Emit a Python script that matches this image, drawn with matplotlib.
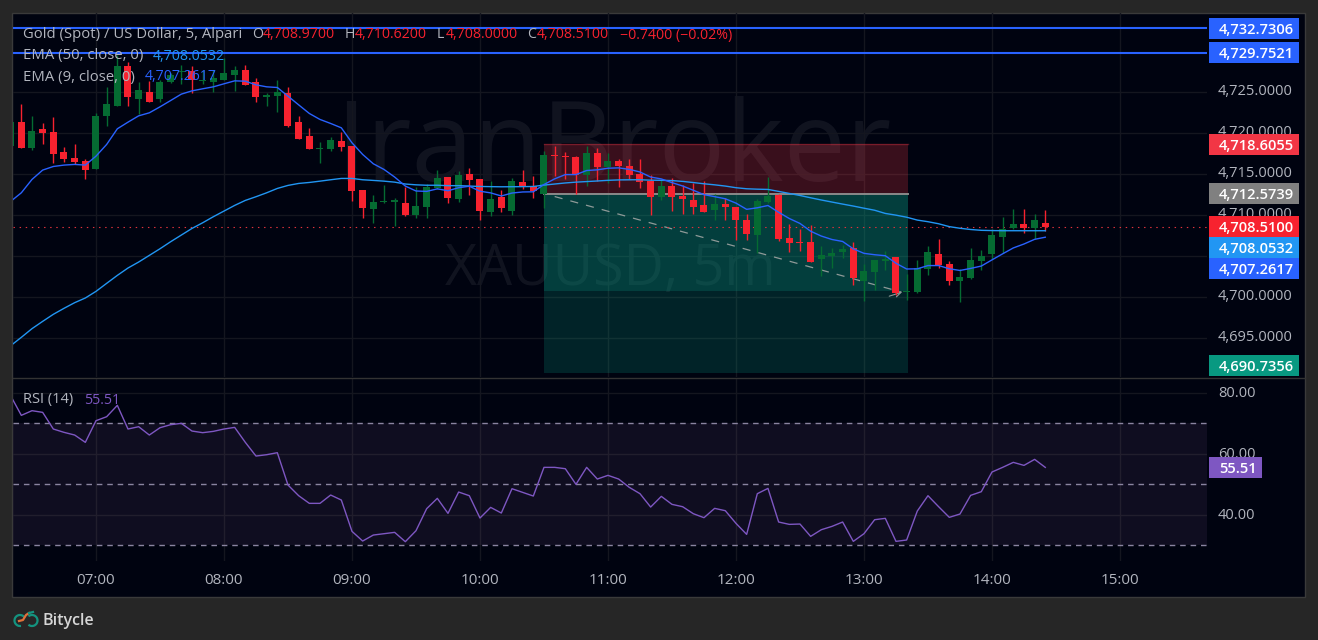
import matplotlib
matplotlib.use("Agg")
import matplotlib.pyplot as plt
from matplotlib.patches import Rectangle, Arc
from matplotlib.transforms import ScaledTranslation

plt.rcParams['font.family'] = ['Open Sans', 'DejaVu Sans']

W, H = 1318, 640

# ---------- data ----------
opens = [4718.33,4721.26,4718.09,4720.41,4720.04,4717.6,4716.87,4716.5,4715.53,4721.99,
 4723.33,4728.21,4724.07,4724.92,4724.07,4726.14,4727.36,4727.6,4726.3,4726.26,
 4726.5,4727.11,4727.72,4726.26,4724.31,4724.55,4724.8,4721.26,4719.55,4717.97,
 4717.97,4718.94,4718.33,4712.97,4710.65,4711.5,4711.55,4711.38,4709.92,4710.9,
 4713.21,4714.55,4711.87,4714.92,4714.31,4710.28,4712.11,4710.41,4713.94,4713.46,
 4712.48,4717.24,4717.11,4717.0,4714.8,4717.48,4715.77,4716.5,4715.89,4714.92,
 4714.07,4712.11,4713.46,4712.24,4711.75,4711.14,4710.53,4711.26,4710.9,4709.31,
 4707.48,4711.5,4712.36,4707.11,4706.63,4706.63,4704.55,4704.92,4705.41,4706.0,
 4701.95,4702.97,4704.31,4704.8,4700.6,4700.53,4703.33,4705.16,4703.94,4701.87,
 4702.24,4704.31,4705.16,4707.24,4708.33,4708.82,4708.33,4708.97]
highs = [4721.4,4723.46,4722.11,4721.14,4721.87,4718.21,4718.58,4716.75,4722.36,4725.65,
 4729.55,4728.7,4726.26,4726.38,4726.5,4727.3,4728.3,4728.1,4727.7,4727.7,
 4729.1,4728.2,4728.33,4726.63,4724.8,4726.5,4725.53,4722.11,4720.53,4718.82,
 4719.43,4720.04,4718.33,4712.97,4712.36,4713.58,4712.0,4713.33,4713.33,4713.7,
 4715.41,4714.55,4715.28,4715.65,4714.31,4714.07,4712.97,4714.43,4715.41,4714.67,
 4717.72,4718.33,4717.6,4717.11,4718.33,4718.09,4717.48,4716.75,4716.75,4716.75,
 4714.8,4714.31,4714.43,4713.58,4713.82,4714.07,4712.48,4712.0,4710.9,4710.04,
 4711.87,4714.55,4712.48,4708.82,4708.2,4708.76,4706.14,4705.89,4706.26,4706.63,
 4703.94,4704.43,4705.53,4704.8,4702.72,4704.43,4706.14,4707.0,4704.31,4703.33,
 4705.9,4705.65,4708.2,4709.67,4710.65,4710.65,4710.04,4710.62]
lows = [4718.2,4718.09,4717.85,4718.58,4716.26,4716.38,4716.14,4714.31,4715.53,4720.77,
 4723.21,4723.21,4722.24,4723.82,4723.7,4726.1,4725.9,4724.8,4725.9,4724.92,
 4726.5,4725.16,4725.89,4723.82,4723.21,4722.48,4720.65,4719.19,4717.97,4716.26,
 4717.72,4717.72,4711.63,4709.55,4708.94,4711.38,4708.58,4709.8,4709.55,4709.55,
 4713.2,4711.38,4711.5,4712.36,4709.31,4709.8,4710.28,4709.92,4713.09,4712.0,
 4710.77,4714.67,4714.31,4712.48,4713.46,4714.07,4713.82,4713.33,4714.31,4713.21,
 4709.92,4711.75,4710.41,4710.04,4710.04,4710.28,4709.31,4709.31,4706.87,4706.87,
 4705.28,4711.38,4706.75,4705.41,4705.53,4704.19,4702.48,4703.46,4704.67,4701.38,
 4699.43,4700.77,4703.2,4700.16,4699.55,4700.41,4702.6,4703.46,4701.38,4699.31,
 4702.11,4703.2,4704.55,4705.28,4708.2,4707.72,4707.0,4708.0]
closes = [4721.26,4718.09,4720.28,4719.92,4717.36,4716.75,4716.38,4715.41,4722.11,4723.46,
 4728.21,4724.31,4725.28,4723.82,4726.26,4727.11,4727.6,4726.5,4726.45,4726.63,
 4727.24,4727.72,4725.89,4724.31,4724.67,4724.92,4720.77,4719.19,4717.97,4718.05,
 4719.07,4718.21,4712.85,4710.77,4711.5,4711.63,4711.75,4709.92,4711.02,4713.33,
 4714.43,4712.0,4714.8,4714.19,4710.41,4711.87,4710.77,4714.07,4713.33,4712.85,
 4717.24,4717.15,4717.03,4714.8,4717.48,4715.77,4716.5,4715.89,4714.8,4713.94,
 4712.11,4713.46,4712.11,4711.87,4710.9,4710.28,4711.26,4710.9,4709.31,4707.6,
 4711.63,4712.24,4706.99,4706.5,4706.55,4704.19,4705.04,4705.28,4705.77,4702.24,
 4703.09,4704.43,4704.55,4700.41,4700.65,4703.46,4705.41,4703.82,4701.87,4702.36,
 4704.43,4704.92,4707.48,4708.2,4708.82,4708.33,4709.31,4708.51]
ema9 = [4711.63,4712.68,4714.31,4715.45,4715.89,4716.06,4716.14,4716.06,4717.15,4718.58,
 4720.49,4721.30,4722.07,4722.44,4723.17,4723.94,4724.72,4725.12,4725.37,4725.61,
 4725.98,4726.34,4726.30,4725.85,4725.61,4725.53,4724.47,4723.41,4722.36,4721.63,
 4721.14,4720.61,4718.78,4717.36,4716.22,4715.53,4714.6,4713.5,4712.9,4712.85,
 4713.16,4712.93,4713.3,4713.48,4712.87,4712.67,4712.29,4712.65,4712.78,4712.8,
 4713.69,4714.38,4714.9,4714.9,4715.4,4715.48,4715.68,4715.72,4715.54,4715.22,
 4714.6,4714.37,4713.92,4713.51,4712.99,4712.45,4712.21,4711.95,4711.42,4710.66,
 4710.85,4711.13,4710.3,4709.54,4708.94,4707.99,4707.4,4706.98,4706.74,4705.84,
 4705.29,4705.12,4705.0,4704.08,4703.38,4703.4,4703.8,4703.8,4703.41,4703.2,
 4703.45,4703.74,4704.49,4705.23,4705.95,4706.43,4707.0,4707.26]
ema50 = [4694.02,4695.04,4696.1,4696.99,4697.85,4698.58,4699.27,4699.84,4700.65,4701.63,
 4702.6,4703.5,4704.23,4705.04,4705.85,4706.71,4707.52,4708.33,4709.02,4709.76,
 4710.45,4711.14,4711.75,4712.2,4712.68,4713.21,4713.58,4713.82,4713.94,4714.1,
 4714.27,4714.43,4714.43,4714.27,4714.19,4714.1,4713.98,4713.75,4713.65,4713.6,
 4713.6,4713.55,4713.55,4713.5,4713.45,4713.43,4713.41,4713.42,4713.43,4713.45,
 4713.62,4713.75,4713.88,4713.98,4714.05,4714.12,4714.2,4714.25,4714.27,4714.27,
 4714.22,4714.2,4714.17,4714.07,4713.93,4713.78,4713.65,4713.5,4713.3,4713.17,
 4713.12,4713.09,4712.85,4712.6,4712.35,4712.07,4711.8,4711.55,4711.3,4711.06,
 4710.8,4710.55,4710.16,4709.95,4709.7,4709.35,4709.15,4708.9,4708.55,4708.35,
 4708.2,4708.1,4708.07,4708.05,4708.05,4708.05,4708.05,4708.05]
rsi = [79.0,72.57,74.1,73.55,68.09,67.0,66.12,63.72,70.82,72.13,
 75.85,68.09,68.85,66.12,68.52,69.51,69.95,67.43,66.89,67.32,
 68.09,68.63,63.72,59.23,59.67,60.33,49.73,46.23,43.72,43.72,
 46.45,44.81,34.54,31.37,33.33,33.77,34.21,31.15,34.75,41.97,
 45.36,40.44,47.43,46.23,38.91,42.4,40.55,48.52,47.32,46.12,
 55.52,55.52,55.08,49.95,55.52,51.69,52.9,51.69,48.96,46.89,
 42.51,46.01,43.39,42.62,40.33,39.02,42.08,41.31,37.16,33.55,
 46.89,48.63,37.6,36.83,36.94,32.9,35.08,36.17,37.6,31.26,
 33.77,38.36,38.8,31.26,31.7,41.2,46.23,42.62,39.13,40.22,
 46.34,47.54,53.99,55.52,57.16,56.17,58.14,55.51]

candle_index = list(range(len(closes)))
time_tick_index = [8, 20, 32, 44, 56, 68, 80, 92, 104]
time_labels = ['07:00','08:00','09:00','10:00','11:00','12:00','13:00','14:00','15:00']
price_ticks = [4695, 4700, 4705, 4710, 4715, 4720, 4725]
rsi_ticks = [40, 60, 80]
rsi_levels = [30, 50, 70]
hlines = [4732.7306, 4729.7521]
position_left, position_right = 50, 84.12
stop_price, entry_price, target_price, reached_price = 4718.6055, 4712.5739, 4690.7356, 4700.66
last_price = 4708.51
tag_values = [4732.7306, 4729.7521, 4718.6055, 4712.5739, 4708.51, 4708.0532, 4707.2617, 4690.7356]
tag_colors = ['#2962ff','#2962ff','#f23645','#808080','#f7222f','#2196f3','#2962ff','#089981']
tag_shift_px = [0, 0, 0, 0, 0, -16.6, -31.2, 7.4]

# ---------- colours ----------
BG = '#262626'; PANE = '#000310'; GRID = '#14161f'; TXT = '#b2b5be'
UP = '#056b32'; DOWN = '#f7222f'; PURPLE = '#7e57c2'; E50 = '#2196f3'; E9 = '#2962ff'

fig = plt.figure(figsize=(W/100, H/100), dpi=100, facecolor=BG)

def rect(x0, y0, x1, y1):
    return [x0/W, 1-y1/H, (x1-x0)/W, (y1-y0)/H]
def fx(x): return x/W
def fy(y): return 1-y/H

# pane frame
fig.add_artist(Rectangle((fx(12), fy(597)), 1293/W, 584/H, transform=fig.transFigure,
                         facecolor=PANE, edgecolor='#3a3a3a', lw=1, zorder=-5))

xl = (0.219, 112.16)
ax = fig.add_axes(rect(13, 13, 1207, 377), facecolor='none')
ax2 = fig.add_axes(rect(13, 379, 1207, 561), facecolor='none')
for a in (ax, ax2):
    a.set_xlim(*xl)
    for s in a.spines.values():
        s.set_visible(False)
    a.set_axisbelow(True)
    a.grid(True, color=GRID, lw=1)
    a.yaxis.tick_right()
    a.tick_params(axis='both', length=0, labelcolor=TXT, labelsize=10.5)

ax.set_ylim(4690.20, 4734.62)
ax.set_yticks(price_ticks, [f'{v:,.4f}' for v in price_ticks])
ax.set_xticks(time_tick_index, [])
ax.tick_params(axis='y', pad=8)
up_2px = ScaledTranslation(0, 2/100, fig.dpi_scale_trans)
up_1px = ScaledTranslation(0, 1/100, fig.dpi_scale_trans)
for lab in ax.get_yticklabels():
    lab.set_ha('left')
    lab.set_transform(lab.get_transform() + up_2px)

ax2.set_ylim(24.82, 84.49)
ax2.set_yticks(rsi_ticks, [f'{v:.2f}' for v in rsi_ticks])
ax2.set_xticks(time_tick_index, time_labels)
ax2.tick_params(axis='y', pad=8)
ax2.tick_params(axis='x', pad=9, labelsize=11)
for lab in ax2.get_yticklabels():
    lab.set_transform(lab.get_transform() + up_1px)
for lab in ax2.get_xticklabels():
    lab.set_fontweight('medium')

# watermark
ax.text(fx(613), fy(181), 'IranBroker', transform=fig.transFigure, ha='center', va='baseline',
        fontsize=80, color='#ffffff', alpha=0.065, zorder=0.5, clip_on=False)
ax.text(fx(610), fy(285), 'XAUUSD, 5m', transform=fig.transFigure, ha='center', va='baseline',
        fontsize=40, color='#ffffff', alpha=0.065, zorder=0.5, clip_on=False)

# position tool
ax.fill_between([position_left, position_right], entry_price, stop_price, color='#f23645', alpha=0.24, lw=0, zorder=1)
ax.fill_between([position_left, position_right], reached_price, entry_price, color='#089981', alpha=0.40, lw=0, zorder=1)
ax.fill_between([position_left, position_right], target_price, reached_price, color='#089981', alpha=0.22, lw=0, zorder=1)
ax.plot([position_left, position_right], [stop_price, stop_price], color='#f23645', alpha=0.35, lw=1, zorder=1.1)
ax.plot([position_left, position_right], [entry_price, entry_price], color='#8a8a8a', lw=1.4, zorder=1.2)
ax.plot([position_left + 1, position_right - 0.6], [entry_price - 0.35, reached_price - 0.1], color='#8f9a98',
        lw=0.9, dashes=(6.5, 6.5), zorder=1.3)
ax.annotate('', xy=(position_right - 0.3, reached_price), xytext=(position_right - 2.0, reached_price - 0.7),
            arrowprops=dict(arrowstyle='->', color='#8f9a98', lw=0.8, mutation_scale=10), zorder=1.3, annotation_clip=False)

# candles
for i, o, h, l, c in zip(candle_index, opens, highs, lows, closes):
    col = UP if c >= o else DOWN
    ax.vlines(i, l, h, color=col, lw=1, zorder=3)
    lo, hi = min(o, c), max(o, c)
    ax.bar(i, max(hi-lo, 0.12), bottom=lo, width=0.656, color=col, lw=0, zorder=3.1)

ax.plot(candle_index, ema50, color=E50, lw=1.0, zorder=4)
ax.plot(candle_index, ema9, color=E9, lw=1.0, zorder=4)

for p in hlines:
    ax.axhline(p, color=E9, lw=1.5, zorder=5)
ax.axhline(last_price, color='#e0323c', lw=0.8, dashes=(1.3, 4.2), zorder=2.5)

# RSI
ax2.axhspan(rsi_levels[0], rsi_levels[2], color='#9c6bb0', alpha=0.10, lw=0, zorder=1)
for lv in rsi_levels:
    ax2.axhline(lv, color='#8a84a0', lw=1, dashes=(4, 3.5), zorder=2)
ax2.plot(candle_index, rsi, color=PURPLE, lw=1.0, zorder=4)

# pane separator
fig.add_artist(plt.Line2D([fx(13), fx(1305)], [fy(378), fy(378)], color='#333333', lw=1,
                          transform=fig.transFigure, zorder=2))

# price tags
fig.canvas.draw()
def tag(y_c, x0, x1, color, text):
    fig.add_artist(Rectangle((fx(x0), fy(y_c+10.5)), (x1-x0)/W, 21/H, transform=fig.transFigure,
                             facecolor=color, edgecolor='none', zorder=6))
    fig.text(fx(x0+10), fy(y_c), text, color='white', fontsize=10.6, va='center_baseline', ha='left',
             zorder=7, fontweight='semibold')
for v, col, sh in zip(tag_values, tag_colors, tag_shift_px):
    yc = H - ax.transData.transform((0, v))[1] - sh
    tag(yc, 1209, 1299, col, f'{v:,.4f}')
tag(H - ax2.transData.transform((0, rsi[-1]))[1], 1209, 1262, PURPLE, f'{rsi[-1]:.2f}')

# legend texts
def t(x, y, s, color=TXT, size=10.2, **kw):
    fig.text(fx(x), fy(y), s, color=color, fontsize=size, va='center_baseline', ha='left', zorder=8, **kw)
R = '#f7222f'
t(23, 33, 'Gold (Spot) / US Dollar, 5, Alpari', size=10.7)
t(252, 33, 'O'); t(263, 33, '4,708.9700', R)
t(345, 33, 'H'); t(355, 33, '4,710.6200', R)
t(437, 33, 'L'); t(446, 33, '4,708.0000', R)
t(527, 33, 'C'); t(537, 33, '4,708.5100', R)
t(620, 33, '\u22120.7400 (\u22120.02%)', R)
t(23, 54, 'EMA (50, close, 0)', size=10.7); t(153, 54, '4,708.0532', E50)
t(23, 75, 'EMA (9, close, 0)', size=10.7); t(145, 75, '4,707.2617', E9)
t(23, 398, 'RSI (14)', size=10.5); t(84, 398, '55.51', PURPLE)

# footer logo + brand
logo = fig.add_axes(rect(12, 608, 40, 628), facecolor='none')
logo.set_xlim(12, 40); logo.set_ylim(628, 608); logo.axis('off')
logo.add_patch(Arc((20, 620.5), 11, 11, theta1=80, theta2=330, color='#14937f', lw=1.6))
logo.add_patch(Arc((32, 620.5), 11, 11, theta1=-130, theta2=130, color='#14937f', lw=1.6))
logo.plot([19, 23, 26, 29], [621, 620, 615, 613], color='#e0713a', lw=1.6)
logo.plot([29, 33], [613, 612], color='#14937f', lw=1.6)
fig.text(fx(42), fy(619), 'Bitycle', color='#d6d6d6', fontsize=11.5, fontweight='semibold',
         va='center_baseline', ha='left')

fig.savefig('out.png', dpi=100, facecolor=BG)
